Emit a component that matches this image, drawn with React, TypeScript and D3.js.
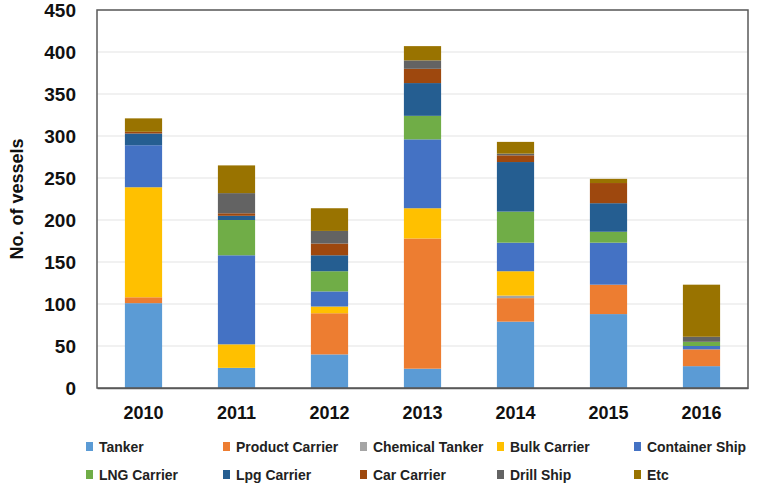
import React, { useEffect, useRef } from "react";
import * as d3 from "d3";

// vessels delivered per year, by ship type
const years = ["2010", "2011", "2012", "2013", "2014", "2015", "2016"];

const tanker = [101, 24, 40, 23, 79, 88, 26];
const productCarrier = [7, 0, 49, 155, 28, 35, 20];
const chemicalTanker = [0, 0, 0, 0, 3, 0, 0];
const bulkCarrier = [131, 28, 8, 36, 29, 0, 0];
const containerShip = [50, 106, 18, 82, 34, 50, 4];
const lngCarrier = [0, 42, 24, 28, 37, 13, 5];
const lpgCarrier = [14, 5, 19, 39, 59, 34, 0];
const carCarrier = [2, 3, 14, 17, 8, 24, 0];
const drillShip = [0, 24, 15, 10, 2, 0, 6];
const etc = [16, 33, 27, 17, 14, 5, 62];

const seriesNames = [
  "Tanker",
  "Product Carrier",
  "Chemical Tanker",
  "Bulk Carrier",
  "Container Ship",
  "LNG Carrier",
  "Lpg Carrier",
  "Car Carrier",
  "Drill Ship",
  "Etc",
];
const seriesValues = [
  tanker,
  productCarrier,
  chemicalTanker,
  bulkCarrier,
  containerShip,
  lngCarrier,
  lpgCarrier,
  carCarrier,
  drillShip,
  etc,
];
const colors = [
  "#5b9bd5",
  "#ed7d31",
  "#a5a5a5",
  "#ffc000",
  "#4472c4",
  "#70ad47",
  "#255e91",
  "#9e480e",
  "#636363",
  "#997300",
];

const yTicks = [0, 50, 100, 150, 200, 250, 300, 350, 400, 450];

export default function App() {
  const svgRef = useRef<SVGSVGElement>(null);

  useEffect(() => {
    const w = 766;
    const h = 488;
    const left = 97;
    const right = 748;
    const top = 10;
    const bottom = 388;
    const font = "'Liberation Sans', Arial, sans-serif";

    const svg = d3.select(svgRef.current).attr("width", w).attr("height", h);
    svg.selectAll("*").remove();
    svg.append("rect").attr("width", w).attr("height", h).attr("fill", "#fff");

    const table = years.map((year, i) => {
      const row: any = { year };
      seriesNames.forEach((name, k) => (row[name] = seriesValues[k][i]));
      return row;
    });
    const stacked = d3.stack().keys(seriesNames)(table);

    const x = d3
      .scaleBand()
      .domain(years)
      .range([left, right])
      .paddingInner(0.6)
      .paddingOuter(0.3);
    const y = d3.scaleLinear().domain([0, 450]).range([bottom, top]);

    // gridlines
    svg
      .append("g")
      .selectAll("line")
      .data(yTicks.slice(1))
      .join("line")
      .attr("x1", left)
      .attr("x2", right)
      .attr("y1", (d) => y(d))
      .attr("y2", (d) => y(d))
      .attr("stroke", "#e3e3e3")
      .attr("stroke-width", 1);

    // bars
    svg
      .append("g")
      .selectAll("g")
      .data(stacked)
      .join("g")
      .attr("fill", (d, i) => colors[i])
      .selectAll("rect")
      .data((d) => d)
      .join("rect")
      .attr("x", (d: any) => x(d.data.year)!)
      .attr("width", x.bandwidth())
      .attr("y", (d) => y(d[1]))
      .attr("height", (d) => y(d[0]) - y(d[1]));

    // plot frame
    svg
      .append("rect")
      .attr("x", left)
      .attr("y", top)
      .attr("width", right - left)
      .attr("height", bottom - top)
      .attr("fill", "none")
      .attr("stroke", "#595959")
      .attr("stroke-width", 1.5);

    // y axis
    const yAxis = svg
      .append("g")
      .attr("transform", `translate(${left},0)`)
      .call(d3.axisLeft(y).tickValues(yTicks).tickSize(0).tickPadding(21));
    yAxis.select(".domain").remove();
    yAxis
      .selectAll("text")
      .attr("font-family", font)
      .attr("font-size", 19)
      .attr("font-weight", "bold")
      .attr("fill", "#111");

    // x axis
    const xAxis = svg
      .append("g")
      .attr("transform", `translate(0,${bottom})`)
      .call(d3.axisBottom(x).tickSize(0).tickPadding(18));
    xAxis.select(".domain").attr("stroke", "#595959").attr("stroke-width", 1.5);
    xAxis
      .selectAll("text")
      .attr("font-family", font)
      .attr("font-size", 18)
      .attr("font-weight", "bold")
      .attr("fill", "#111");

    // y title
    svg
      .append("text")
      .attr("transform", `translate(23,${(top + bottom) / 2}) rotate(-90)`)
      .attr("text-anchor", "middle")
      .attr("font-family", font)
      .attr("font-size", 18)
      .attr("font-weight", "bold")
      .attr("fill", "#111")
      .text("No. of vessels");

    // legend, 5 columns x 2 rows
    const cols = [86, 223, 360, 497, 634];
    const rows = [447, 475];
    const legend = svg
      .append("g")
      .selectAll("g")
      .data(seriesNames)
      .join("g")
      .attr("transform", (d, i) => `translate(${cols[i % 5]},${rows[Math.floor(i / 5)]})`);
    legend
      .append("rect")
      .attr("x", 0)
      .attr("y", -5)
      .attr("width", 7)
      .attr("height", 9)
      .attr("fill", (d, i) => colors[i]);
    legend
      .append("text")
      .attr("transform", "translate(13,5) scale(0.93,1)")
      .attr("font-family", font)
      .attr("font-size", 15)
      .attr("font-weight", "bold")
      .attr("fill", "#222")
      .text((d) => d);
  }, []);

  return (
    <div style={{ position: "absolute", left: 0, top: 0 }}>
      <svg ref={svgRef}></svg>
    </div>
  );
}
